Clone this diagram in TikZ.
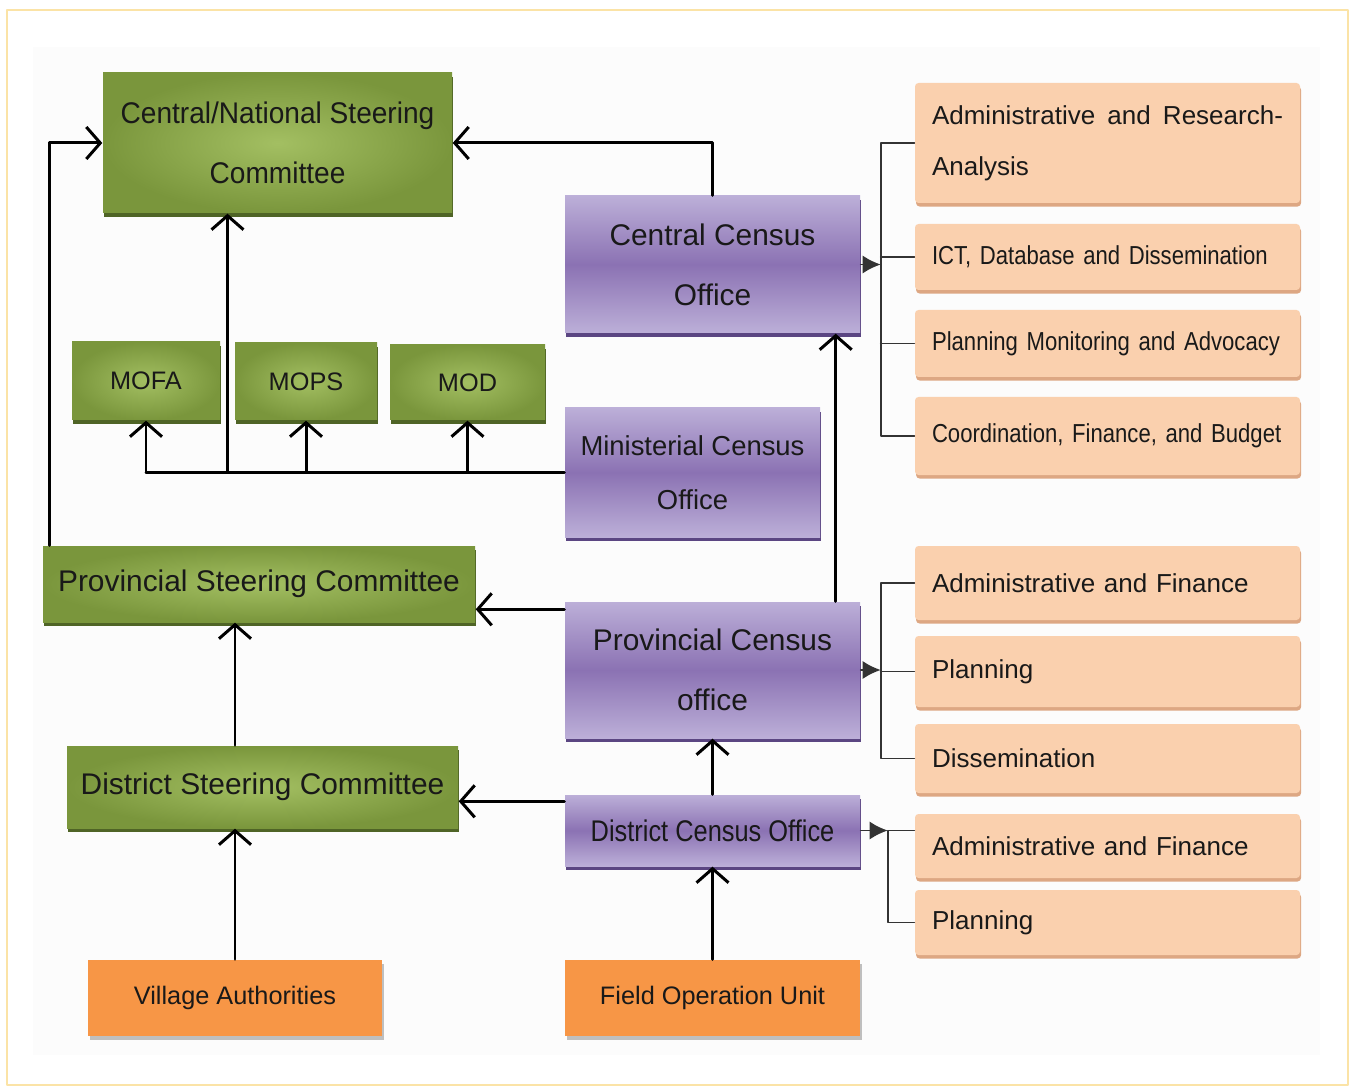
\documentclass[tikz,border=0pt]{standalone}
\usepackage{fontspec}
\setmainfont{Liberation Sans}
\newfontfamily\narrowfont[FakeStretch=0.85]{Liberation Sans}
\newfontfamily\tightfont[FakeStretch=0.94]{Liberation Sans}
\usetikzlibrary{arrows.meta,shadows}
\definecolor{frameyellow}{HTML}{FBE3A6}
\definecolor{greenin}{HTML}{A3BF62}
\definecolor{greenout}{HTML}{7A963C}
\definecolor{greensh}{HTML}{4F6426}
\definecolor{purplelt}{HTML}{BCAFD8}
\definecolor{purplemid}{HTML}{8B72B3}
\definecolor{purplesh}{HTML}{5B4682}
\definecolor{peach}{HTML}{FAD0AE}
\definecolor{peachsh}{HTML}{DDA783}
\definecolor{orangebox}{HTML}{F79646}
\begin{document}
\begin{tikzpicture}[>={Straight Barb[length=1.4mm,width=3.2mm]}, line join=round, line cap=round,
    dims/.style 2 args={minimum width=#1cm, minimum height=#2cm},
    gbox/.style={inner color=greenin, outer color=greenout, general shadow={fill=greensh, shadow xshift=0.4pt, shadow yshift=-1.1pt},
        inner sep=0pt, align=center, text=black!90, font=\fontsize{8.5}{17}\selectfont},
    pbox/.style={top color=purplelt, bottom color=purplelt, middle color=purplemid, general shadow={fill=purplesh, shadow xshift=0.4pt, shadow yshift=-1.1pt},
        inner sep=0pt, align=center, text=black!90, font=\fontsize{8.5}{17}\selectfont},
    sbox/.style={fill=peach, rounded corners=1pt, general shadow={fill=peachsh, shadow xshift=0.3pt, shadow yshift=-1pt},
        minimum width=3.85cm, text width=3.51cm, inner xsep=0.17cm, inner ysep=0pt, align=left, text=black!90, font=\fontsize{7.4}{14.5}\selectfont},
    obox/.style={fill=orangebox, general shadow={fill=black!25, shadow xshift=0.5pt, shadow yshift=-1pt},
        inner sep=0pt, align=center, text=black!90, font=\fontsize{7.2}{9}\selectfont},
    link/.style={->, line width=0.85pt},
    sub/.style={draw=black!80, line width=0.5pt}]
\useasboundingbox (0,0) rectangle (13.52,-10.89);
\fill[black!1] (0.33,-0.47) rectangle (13.2,-10.55);
\draw[frameyellow, line width=0.8pt] (0.07,-0.1) rectangle (13.48,-10.85);

\node[gbox, dims={3.49}{1.40}, font=\tightfont\fontsize{8.5}{17}\selectfont] (cnsc) at (2.775,-1.43) {Central/National Steering\\Committee};
\node[gbox, dims={1.48}{0.78}, font=\fontsize{7.2}{9}\selectfont] (mofa) at (1.46,-3.81) {MOFA};
\node[gbox, dims={1.42}{0.77}, font=\fontsize{7.2}{9}\selectfont] (mops) at (3.06,-3.815) {MOPS};
\node[gbox, dims={1.55}{0.75}, font=\fontsize{7.2}{9}\selectfont] (mod) at (4.675,-3.825) {MOD};
\node[gbox, dims={4.32}{0.76}] (psc) at (2.59,-5.84) {Provincial Steering Committee};
\node[gbox, dims={3.91}{0.82}] (dsc) at (2.625,-7.87) {District Steering Committee};
\node[obox, dims={2.94}{0.76}] (va) at (2.35,-9.98) {Village Authorities};

\node[pbox, dims={2.95}{1.37}] (cco) at (7.125,-2.645) {Central Census\\Office};
\node[pbox, dims={2.55}{1.29}, font=\fontsize{7.8}{15.5}\selectfont] (mco) at (6.925,-4.725) {Ministerial Census\\Office};
\node[pbox, dims={2.95}{1.36}] (pco) at (7.125,-6.70) {Provincial Census\\office};
\node[pbox, dims={2.95}{0.71}, font=\narrowfont\fontsize{8.5}{17}\selectfont] (dco) at (7.125,-8.305) {District Census Office};
\node[obox, dims={2.95}{0.76}] (fou) at (7.125,-9.98) {Field Operation Unit};

\node[sbox, minimum height=1.20cm] (ara) at (11.075,-1.43) {Administrative\hfill and\hfill Research-\\Analysis};
\node[sbox, minimum height=0.66cm, font=\narrowfont\fontsize{7.4}{14.5}\selectfont] (ict) at (11.075,-2.57) {\mbox{ICT, Database and Dissemination}};
\node[sbox, minimum height=0.67cm, font=\narrowfont\fontsize{7.4}{14.5}\selectfont] (pma) at (11.075,-3.435) {\mbox{Planning Monitoring and Advocacy}};
\node[sbox, minimum height=0.78cm, font=\narrowfont\fontsize{7.4}{14.5}\selectfont] (cfb) at (11.075,-4.36) {\mbox{Coordination, Finance, and Budget}};
\node[sbox, minimum height=0.74cm] (af1) at (11.075,-5.83) {Administrative and Finance};
\node[sbox, minimum height=0.71cm] (pl1) at (11.075,-6.715) {Planning};
\node[sbox, minimum height=0.69cm] (dis) at (11.075,-7.585) {Dissemination};
\node[sbox, minimum height=0.64cm] (af2) at (11.075,-8.46) {Administrative and Finance};
\node[sbox, minimum height=0.65cm] (pl2) at (11.075,-9.225) {Planning};

\draw[link] (cco.north) |- (cnsc.east);
\draw[link] ([xshift=0.07cm]psc.north west) |- (cnsc.west);
\coordinate (cup) at ([xshift=-0.5cm]cnsc.south);
\draw[line width=0.85pt] (mco.west) -- (mco.west -| mofa);
\draw[link] (mco.west -| mofa) -- (mofa.south);
\draw[link] (mco.west -| mops) -- (mops.south);
\draw[link] (mco.west -| mod) -- (mod.south);
\draw[link] (mco.west -| cup) -- (cup);
\draw[link] ([xshift=-0.25cm]pco.north east) -- ([xshift=-0.25cm]cco.south east);
\draw[link] ([yshift=-0.08cm]pco.north west) -- ([yshift=-0.08cm]pco.north west -| psc.east);
\draw[link] (dsc.north -| va) -- (psc.south -| va);
\draw[link] (va.north) -- (dsc.south -| va);
\draw[link] (dco.north) -- (pco.south);
\draw[link] (fou.north) -- (dco.south);
\draw[link] ([yshift=-0.07cm]dco.north west) -- ([yshift=-0.07cm]dco.north west -| dsc.east);

\draw[sub, -{Latex[length=1.8mm,width=1.8mm]}] (cco.east) -- ++(0.2,0) coordinate (b1);
\draw[sub] (ara.west) -| (b1) |- (cfb.west);
\draw[sub] (ict.west -| b1) -- (ict.west);
\draw[sub] (pma.west -| b1) -- (pma.west);
\draw[sub, -{Latex[length=1.8mm,width=1.8mm]}] (pco.east) -- ++(0.2,0) coordinate (b2);
\draw[sub] (af1.west) -| (b2) |- (dis.west);
\draw[sub] (pl1.west -| b2) -- (pl1.west);
\draw[sub, -{Latex[length=1.8mm,width=1.8mm]}] (dco.east) -- ++(0.27,0) coordinate (b3);
\draw[sub] (b3 -| af2.west) -- (b3) |- (pl2.west);
\end{tikzpicture}
\end{document}
